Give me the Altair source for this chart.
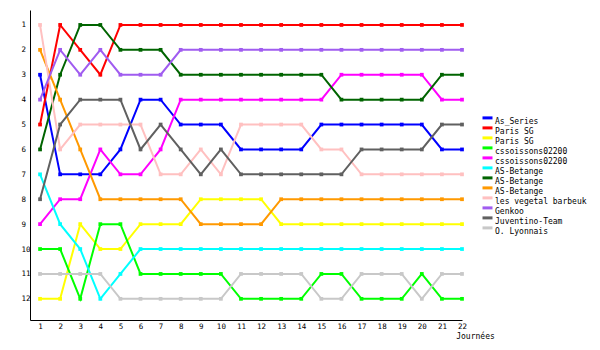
import altair as alt
import pandas as pd

days = list(range(1, 23))

names = ["As_Series", "Paris SG", "Paris SG", "cssoissons02200", "cssoissons02200",
         "AS-Betange", "AS-Betange", "AS-Betange", "les vegetal barbeuk", "Genkoo",
         "Juventino-Team", "O. Lyonnais"]
colors = ["#0000FF", "#FF0000", "#FFFF00", "#00FF00", "#FF00FF",
          "#00FFFF", "#006400", "#FF9900", "#FFC0C0", "#A05CF0",
          "#606060", "#C8C8C8"]

as_series   = [3, 7, 7, 7, 6, 4, 4, 5, 5, 5, 6, 6, 6, 6, 5, 5, 5, 5, 5, 5, 6, 6]
paris_red   = [5, 1, 2, 3, 1, 1, 1, 1, 1, 1, 1, 1, 1, 1, 1, 1, 1, 1, 1, 1, 1, 1]
paris_yel   = [12, 12, 9, 10, 10, 9, 9, 9, 8, 8, 8, 8, 9, 9, 9, 9, 9, 9, 9, 9, 9, 9]
csso_lime   = [10, 10, 12, 9, 9, 11, 11, 11, 11, 11, 12, 12, 12, 12, 11, 11, 12, 12, 12, 11, 12, 12]
csso_mag    = [9, 8, 8, 6, 7, 7, 6, 4, 4, 4, 4, 4, 4, 4, 4, 3, 3, 3, 3, 3, 4, 4]
bet_cyan    = [7, 9, 10, 12, 11, 10, 10, 10, 10, 10, 10, 10, 10, 10, 10, 10, 10, 10, 10, 10, 10, 10]
bet_green   = [6, 3, 1, 1, 2, 2, 2, 3, 3, 3, 3, 3, 3, 3, 3, 4, 4, 4, 4, 4, 3, 3]
bet_orange  = [2, 4, 6, 8, 8, 8, 8, 8, 9, 9, 9, 9, 8, 8, 8, 8, 8, 8, 8, 8, 8, 8]
vegetal     = [1, 6, 5, 5, 5, 5, 7, 7, 6, 7, 5, 5, 5, 5, 6, 6, 7, 7, 7, 7, 7, 7]
genkoo      = [4, 2, 3, 2, 3, 3, 3, 2, 2, 2, 2, 2, 2, 2, 2, 2, 2, 2, 2, 2, 2, 2]
juventino   = [8, 5, 4, 4, 4, 6, 5, 6, 7, 6, 7, 7, 7, 7, 7, 7, 6, 6, 6, 6, 5, 5]
lyonnais    = [11, 11, 11, 11, 12, 12, 12, 12, 12, 12, 11, 11, 11, 11, 12, 12, 11, 11, 11, 12, 11, 11]

series = [as_series, paris_red, paris_yel, csso_lime, csso_mag, bet_cyan,
          bet_green, bet_orange, vegetal, genkoo, juventino, lyonnais]

keys = [f"{i:02d}|{n}" for i, n in enumerate(names)]
rows = []
for k, vals in zip(keys, series):
    for d, v in zip(days, vals):
        rows.append({"key": k, "day": d, "rank": v})
df = pd.DataFrame(rows)

font = "DejaVu Sans Mono"

chart = alt.Chart(df).mark_line(
    strokeWidth=2,
    point=alt.OverlayMarkDef(shape="square", size=14, filled=True, opacity=1),
).encode(
    x=alt.X("day:Q",
            scale=alt.Scale(domain=[0.5, 22], nice=False, zero=False),
            axis=alt.Axis(values=days, format="d", grid=False, ticks=False, tickSize=0,
                          labelPadding=2, labelFont=font, labelFontSize=7.5, labelColor="black",
                          domainColor="black", domainWidth=1, labelFlush=False,
                          title="Journées", titleFont=font, titleFontSize=8,
                          titleFontWeight="normal", titleColor="black",
                          titleX=445, titleY=16, titleAlign="center", titleBaseline="middle")),
    y=alt.Y("rank:Q",
            scale=alt.Scale(domain=[0.4, 12.85], reverse=True, nice=False, zero=False),
            axis=alt.Axis(values=list(range(1, 13)), format="d", grid=False, ticks=False,
                          tickSize=0, labelPadding=9, labelAlign="left",
                          labelFont=font, labelFontSize=7.5, labelColor="black",
                          domainColor="black", domainWidth=1, title=None)),
    color=alt.Color("key:N",
                    scale=alt.Scale(domain=keys, range=colors),
                    legend=alt.Legend(orient="none", legendX=452, legendY=106,
                                      title=None, symbolType="M-1.25,-0.9L1.25,-0.9",
                                      symbolSize=64, symbolStrokeWidth=3,
                                      labelFont=font, labelFontSize=8, labelColor="black",
                                      rowPadding=-5, labelOffset=2,
                                      labelExpr="split(datum.label, '|')[1]")),
    detail="key:N",
).properties(
    width=432, height=310,
    autosize=alt.AutoSizeParams(type="none"),
    padding={"left": 30, "top": 10, "right": 138, "bottom": 30},
).configure_view(stroke=None).configure_axis(labelOverlap=False)

chart.save("out.html", embed_options={"renderer": "svg", "actions": False})
